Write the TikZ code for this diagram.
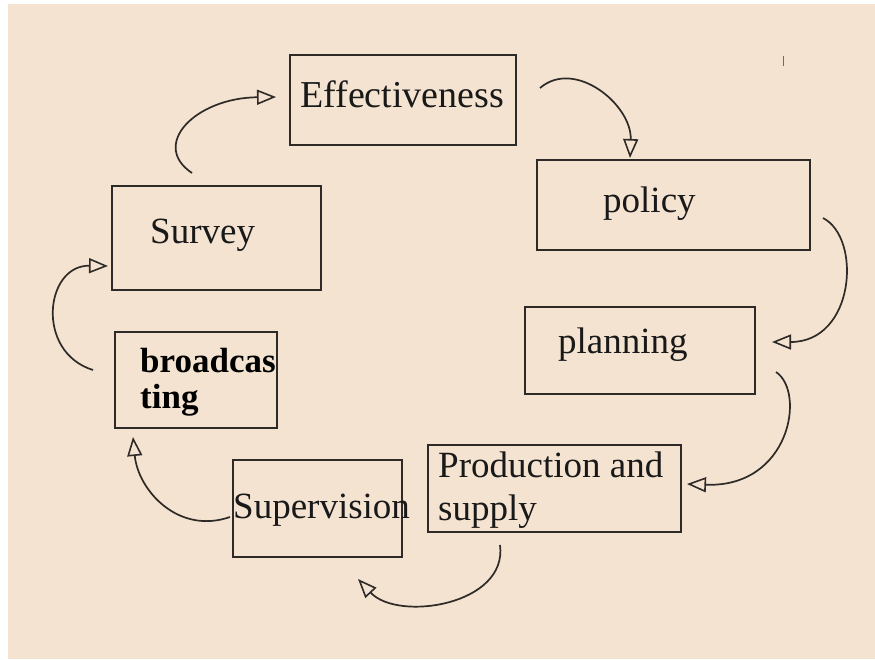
\documentclass[tikz,border=0pt]{standalone}
\usepackage{fontspec}
\setmainfont{Liberation Serif}
\usetikzlibrary{arrows.meta}
\definecolor{paper}{RGB}{244,227,208}
\definecolor{ink}{RGB}{45,42,40}
\tikzset{
  box/.style={draw=ink, line width=2pt, inner sep=0pt, rectangle},
  lbl/.style={anchor=base west, inner sep=0pt, text=black!90,
              font=\fontsize{37}{43}\selectfont},
  blbl/.style={anchor=base west, inner sep=0pt, text=black,
              font=\fontsize{35}{36}\selectfont\bfseries},
  flow/.style={draw=ink, line width=1.7pt,
               -{Triangle[open, length=19pt, width=15pt, line width=1.6pt]}},
}
\begin{document}
\begin{tikzpicture}[x=1pt, y=-1pt]
\useasboundingbox (0,0) rectangle (875,659);
\fill[paper] (8,4) rectangle (875,659);

% boxes
\node[box, minimum width=226pt, minimum height=90pt]  (eff)    at (403,100)   {};
\node[box, minimum width=273pt, minimum height=90pt]  (policy) at (673.5,205) {};
\node[box, minimum width=230pt, minimum height=87pt]  (plan)   at (640,350.5) {};
\node[box, minimum width=253pt, minimum height=87pt]  (prod)   at (554.5,488.5) {};
\node[box, minimum width=169pt, minimum height=97pt]  (sup)    at (317.5,508.5) {};
\node[box, minimum width=162pt, minimum height=96pt]  (broad)  at (196,380)   {};
\node[box, minimum width=209pt, minimum height=104pt] (survey) at (216.5,238) {};

% labels
\node[lbl, font=\fontsize{38}{43}\selectfont] (teff) at (300,107) {Effectiveness};
\node[lbl] (tpolicy) at (603,212) {policy};
\node[lbl] (tplan)   at (558,353) {planning};
\node[lbl] (tprod1)  at (438,477) {Production and};
\node[lbl] (tprod2)  at (438,520) {supply};
\node[lbl] (tsup)    at (233,518) {Supervision};
\node[blbl] (tbroad1) at (140,372) {broadcas};
\node[blbl] (tbroad2) at (140,408) {ting};
\node[lbl] (tsurvey) at (150,243) {Survey};

% loose ends of the curved arrows
\coordinate (s1) at (192,173); \coordinate (e1) at (276,97);
\coordinate (s2) at (540,88);  \coordinate (e2) at (630,158);
\coordinate (s3) at (823,218); \coordinate (e3) at (772,342);
\coordinate (s4) at (776,372); \coordinate (e4) at (687,484);
\coordinate (s5) at (500,545); \coordinate (e5) at (358,579);
\coordinate (s6) at (230,517); \coordinate (e6) at (133,437);
\coordinate (s7) at (93,370);  \coordinate (e7) at (108,266);

\draw[flow] (s1) .. controls (150,145) and (195,98) .. (e1);
\draw[flow] (s2) .. controls (575,58) and (632,105) .. (e2);
\draw[flow] (s3) .. controls (862,238) and (855,342) .. (e3);
\draw[flow] (s4) .. controls (806,392) and (790,488) .. (e4);
\draw[flow] (s5) .. controls (508,605) and (398,622) .. (e5);
\draw[flow] (s6) .. controls (178,535) and (138,490) .. (e6);
\draw[flow] (s7) .. controls (35,352) and (45,265) .. (e7);

% small stray tick near the top right
\draw[ink!70, line width=1pt] (783,56) -- (783,66);
\end{tikzpicture}
\end{document}
